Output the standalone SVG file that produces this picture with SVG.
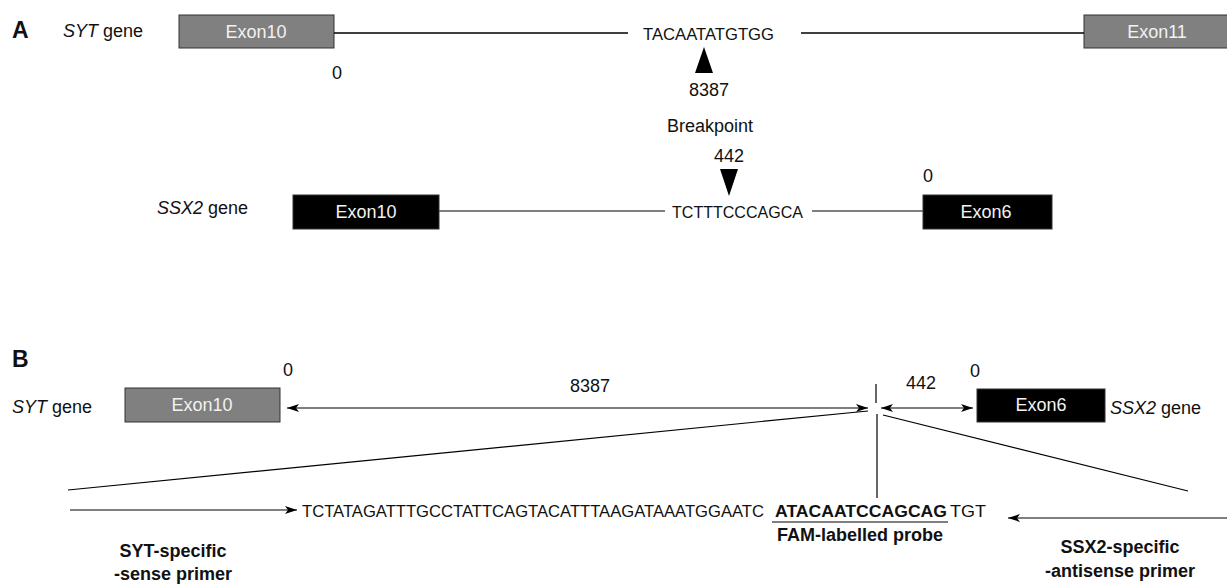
<svg xmlns="http://www.w3.org/2000/svg" width="1227" height="585" viewBox="0 0 1227 585">
<style>
text{font-family:"Liberation Sans",Arial,sans-serif;font-size:18px;fill:#111}
.b{font-weight:bold}
.it{font-style:italic}
.m{text-anchor:middle}
.seq{font-size:16.5px}
.lbl{font-size:23px;font-weight:bold}
.ex{fill:#f2f2f2;text-anchor:middle}
.gray{fill:#808080;stroke:#333;stroke-width:1}
.blk{fill:#000;stroke:#333;stroke-width:1}
.ln{stroke:#000;stroke-width:1.3;fill:none}
.lg{stroke:#555;stroke-width:1.3;fill:none}
.ar{stroke:#000;stroke-width:1.2;fill:none}
</style>
<defs>
<marker id="ah" viewBox="0 0 12 8" refX="12" refY="4" markerWidth="12" markerHeight="8" markerUnits="userSpaceOnUse" orient="auto-start-reverse">
<path d="M0,0 L12,4 L0,8 L3,4 z" fill="#000"/>
</marker>
</defs>

<!-- Panel A -->
<text class="lbl" x="12" y="38">A</text>
<g id="syt-label-a"><text x="63" y="37"><tspan class="it">SYT</tspan> gene</text></g>
<g id="syt-exon10-a"><rect class="gray" x="179" y="15" width="155" height="33"/><text class="ex" x="256" y="38">Exon10</text></g>
<g id="syt-exon11-a"><rect class="gray" x="1084" y="15" width="150" height="33"/><text class="ex" x="1157" y="38">Exon11</text></g>
<g id="syt-seq"><text class="seq" x="643" y="40" textLength="131" lengthAdjust="spacingAndGlyphs">TACAATATGTGG</text></g>
<text x="332" y="79">0</text>
<g id="bp-up"><polygon points="704,47 695,73 713,73" fill="#000"/><text class="m" x="709" y="96">8387</text></g>
<g id="breakpoint"><text class="m" x="710" y="132">Breakpoint</text></g>
<g id="bp-down"><text class="m" x="729" y="162">442</text><polygon points="720,169 738,169 729,196" fill="#000"/></g>

<g id="ssx2-label-a"><text x="157" y="214"><tspan class="it">SSX2</tspan> gene</text></g>
<g id="ssx2-exon10-a"><rect class="blk" x="293" y="195" width="146" height="34"/><text class="ex" x="366" y="218">Exon10</text></g>
<g id="ssx2-seq"><text class="seq" x="672" y="218" textLength="131" lengthAdjust="spacingAndGlyphs">TCTTTCCCAGCA</text></g>
<g id="ssx2-exon6-a"><rect class="blk" x="923" y="195" width="129" height="34"/><text class="ex" x="986" y="218">Exon6</text></g>
<text x="923" y="182">0</text>

<!-- Panel B -->
<text class="lbl" x="12" y="367">B</text>
<g id="syt-label-b"><text x="12" y="413"><tspan class="it">SYT</tspan> gene</text></g>
<g id="syt-exon10-b"><rect class="gray" x="125" y="388" width="155" height="34"/><text class="ex" x="202" y="411">Exon10</text></g>
<text x="283" y="376">0</text>
<text class="m" x="590" y="392">8387</text>
<text class="m" x="921" y="389">442</text>
<text x="970" y="377">0</text>
<g id="ssx2-exon6-b"><rect class="blk" x="977" y="389" width="128" height="33"/><text class="ex" x="1041" y="411">Exon6</text></g>
<g id="ssx2-label-b"><text x="1110" y="414"><tspan class="it">SSX2</tspan> gene</text></g>

<g id="amplicon">
<text class="seq" x="302" y="517" textLength="462" lengthAdjust="spacingAndGlyphs">TCTATAGATTTGCCTATTCAGTACATTTAAGATAAATGGAATC</text>
<text class="b" x="775" y="517" style="font-size:17px" textLength="172" lengthAdjust="spacingAndGlyphs">ATACAATCCAGCAG</text>
<text class="seq" x="950" y="517" textLength="36" lengthAdjust="spacingAndGlyphs">TGT</text>
</g>
<g id="probe"><text class="b m" x="860" y="541">FAM-labelled probe</text></g>
<g id="sense-primer"><text class="b m" x="173" y="557">SYT-specific</text><text class="b m" x="173" y="580">-sense primer</text></g>
<g id="antisense-primer"><text class="b m" x="1120" y="553">SSX2-specific</text><text class="b m" x="1120" y="577">-antisense primer</text></g>

<g id="connectors">
<line class="ln" x1="334" y1="33" x2="628" y2="33"/>
<line class="ln" x1="801" y1="33" x2="1084" y2="33"/>
<line class="lg" x1="439" y1="211" x2="665" y2="211"/>
<line class="lg" x1="812" y1="211" x2="923" y2="211"/>
<line class="ar" x1="287" y1="408" x2="868" y2="408" marker-start="url(#ah)" marker-end="url(#ah)"/>
<line class="ar" x1="881" y1="408" x2="973" y2="408" marker-start="url(#ah)" marker-end="url(#ah)"/>
<line class="ar" x1="876" y1="384" x2="876" y2="403"/>
<line class="ar" x1="877" y1="414" x2="877" y2="498"/>
<line class="ar" x1="68" y1="490" x2="868" y2="411"/>
<line class="ar" x1="883" y1="415" x2="1188" y2="491"/>
<line class="ar" x1="70" y1="510" x2="297" y2="510" marker-end="url(#ah)"/>
<line class="ar" x1="1227" y1="518" x2="1008" y2="518" marker-end="url(#ah)"/>
<line class="ar" x1="772" y1="522" x2="948" y2="522"/>
</g>
</svg>
